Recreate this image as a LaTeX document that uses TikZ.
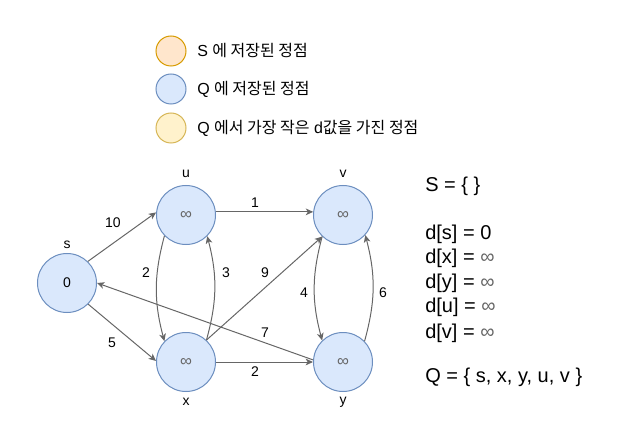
\documentclass[tikz,border=0pt]{standalone}
\usepackage{fontspec}
\setmainfont{Liberation Sans}
\newfontfamily\kr{Noto Sans CJK KR}
\usetikzlibrary{arrows.meta}
\definecolor{qfill}{HTML}{DAE8FC}
\definecolor{qdraw}{HTML}{6C8EBF}
\definecolor{sfill}{HTML}{FFE6CC}
\definecolor{sdraw}{HTML}{D79B00}
\definecolor{mfill}{HTML}{FFF2CC}
\definecolor{mdraw}{HTML}{D6B656}
\definecolor{edgec}{HTML}{666666}
\definecolor{infc}{HTML}{666666}
\begin{document}
\begin{tikzpicture}[x=0.75pt,y=0.75pt,
 vert/.style={circle,draw=qdraw,fill=qfill,line width=0.75pt,minimum size=44.25pt,inner sep=0pt,font=\fontsize{10.5}{12}\selectfont},
 legc/.style={circle,line width=0.75pt,minimum size=22.5pt,inner sep=0pt},
 legt/.style={anchor=west,inner sep=0pt,font=\fontsize{12}{14}\selectfont},
 vname/.style={inner sep=0pt,font=\fontsize{10.5}{12}\selectfont},
 wlab/.style={inner sep=0pt,font=\fontsize{10.5}{12}\selectfont},
 arr/.style={draw=edgec,line width=0.75pt,-{Stealth[length=5.5pt,width=5pt,inset=1.5pt]}},
 ptxt/.style={anchor=west,inner sep=0pt,font=\fontsize{15}{18}\selectfont,text height=11pt,text depth=3.5pt},
 inf/.style={text=infc,font=\fontsize{12.5}{14}\selectfont}]
\useasboundingbox (0,0) rectangle (618,447);
% legend
\node[legc,draw=sdraw,fill=sfill] (l1) at (171,396) {};
\node[legc,draw=qdraw,fill=qfill] (l2) at (171,358) {};
\node[legc,draw=mdraw,fill=mfill] (l3) at (171,319) {};
\node[legt] (t1) at (197,396) {S {\kr 에 저장된 정점}};
\node[legt] (t2) at (197,358) {Q {\kr 에 저장된 정점}};
\node[legt] (t3) at (197,319) {Q {\kr 에서 가장 작은} d{\kr 값을 가진 정점}};
% vertices
\node[vert] (s) at (67,164) {0};
\node[vert,inf] (u) at (186,232) {∞};
\node[vert,inf] (v) at (343,232) {∞};
\node[vert,inf] (x) at (186,85) {∞};
\node[vert,inf] (y) at (343,85) {∞};
\node[vname] (ns) at (67,202) {s};
\node[vname] (nu) at (186,273) {u};
\node[vname] (nv) at (343,273) {v};
\node[vname] (nx) at (186,45) {x};
\node[vname] (ny) at (343,45) {y};
% edges
\draw[arr] (s.46) -- (u.175);
\draw[arr] (s.-45) -- (x.178);
\draw[arr] (u.6) -- (v.174);
\draw[arr] (x.east) -- (y.west);
\draw[arr] (u.224) to[bend right=15] (x.136);
\draw[arr] (x.47) to[bend right=15] (u.315);
\draw[arr] (x.47) -- (v.226);
\draw[arr] (y.176) -- (s.east);
\draw[arr] (v.226) to[bend right=15] (y.134);
\draw[arr] (y.44) to[bend right=15] (v.318);
% weights
\node[wlab] (w1) at (113,224) {10};
\node[wlab] (w2) at (112,104) {5};
\node[wlab] (w3) at (255,244) {1};
\node[wlab] (w4) at (255,75) {2};
\node[wlab] (w5) at (146,174) {2};
\node[wlab] (w6) at (226,174) {3};
\node[wlab] (w7) at (265,174) {9};
\node[wlab] (w8) at (265,114) {7};
\node[wlab] (w9) at (304,154) {4};
\node[wlab] (w10) at (383,154) {6};
% right panel
\node[ptxt] (p1) at (425,260) {S = \{ \}};
\node[ptxt] (p2) at (425,212) {d[s] = 0};
\node[ptxt] (p3) at (425,188.5) {d[x] = \textcolor{infc}{∞}};
\node[ptxt] (p4) at (425,164) {d[y] = \textcolor{infc}{∞}};
\node[ptxt] (p5) at (425,139.5) {d[u] = \textcolor{infc}{∞}};
\node[ptxt] (p6) at (425,114) {d[v] = \textcolor{infc}{∞}};
\node[ptxt] (p7) at (425,70) {Q = \{ s, x, y, u, v \}};
\end{tikzpicture}
\end{document}
